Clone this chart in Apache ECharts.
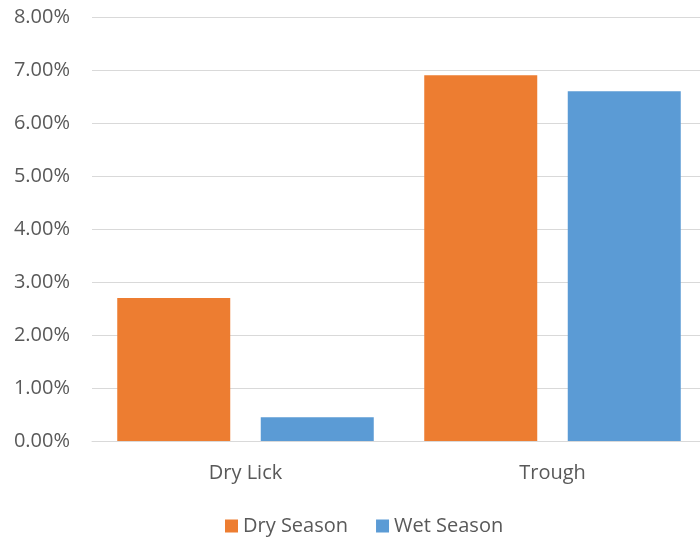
<!DOCTYPE html>
<html>
<head>
<meta charset="utf-8">
<script src="https://cdn.jsdelivr.net/npm/echarts@6/dist/echarts.min.js"></script>
<style>
  html, body { margin: 0; padding: 0; background: #fff; overflow: hidden; }
  #chart { width: 720px; height: 540px; }
</style>
</head>
<body>
<div id="chart"></div>
<script>
// Share of samples by site and season (percent)
const categories = ['Dry Lick', 'Trough'];
const drySeason = [2.7, 6.9];
const wetSeason = [0.45, 6.6];
const seriesNames = ['Dry Season', 'Wet Season'];

const textColor = '#595959';
const fontFamily = '"Open Sans", "Liberation Sans", sans-serif';

const chart = echarts.init(document.getElementById('chart'));
chart.setOption({
  animation: false,
  grid: { left: 92, top: 17, width: 614, height: 424 },
  legend: {
    data: seriesNames,
    top: 516,
    left: 225,
    padding: 0,
    itemWidth: 13,
    itemHeight: 13,
    itemGap: 28,
    icon: 'rect',
    textStyle: { color: textColor, fontSize: 20, fontFamily: fontFamily }
  },
  xAxis: {
    type: 'category',
    data: categories,
    axisTick: { show: false },
    axisLine: { lineStyle: { color: '#d9d9d9', width: 1 } },
    axisLabel: { color: textColor, fontSize: 20, fontFamily: fontFamily, margin: 22 }
  },
  yAxis: {
    type: 'value',
    min: 0,
    max: 8,
    interval: 1,
    axisLine: { show: false },
    axisTick: { show: false },
    splitLine: { lineStyle: { color: '#d9d9d9', width: 1 } },
    axisLabel: {
      color: textColor, fontSize: 20, fontFamily: fontFamily, margin: 22,
      formatter: v => v.toFixed(2) + '%'
    }
  },
  series: [
    {
      name: seriesNames[0], type: 'bar', data: drySeason,
      barWidth: 113, barGap: '27%',
      itemStyle: { color: '#ED7D31' }
    },
    {
      name: seriesNames[1], type: 'bar', data: wetSeason,
      barWidth: 113,
      itemStyle: { color: '#5B9BD5' }
    }
  ]
});
</script>
</body>
</html>
